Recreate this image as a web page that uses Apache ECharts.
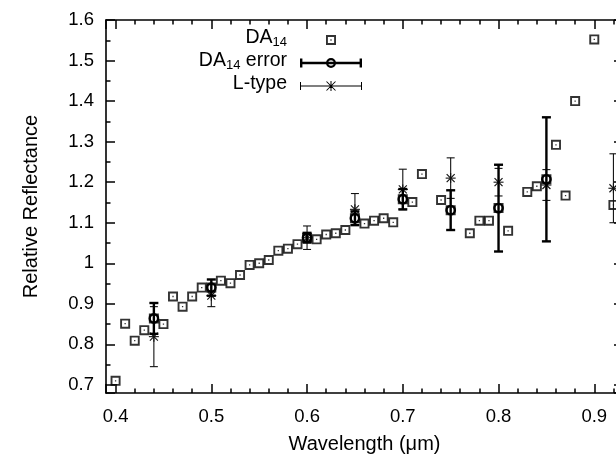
<!DOCTYPE html>
<html><head><meta charset="utf-8">
<script src="https://cdn.jsdelivr.net/npm/echarts@6/dist/echarts.min.js"></script>
<style>html,body{margin:0;padding:0;background:#fff}#c{width:616px;height:457px}</style>
</head><body><div id="c"></div>
<script>
// DA14 spectrum (squares)
const da14Wave = [0.40,0.41,0.42,0.43,0.44,0.45,0.46,0.47,0.48,0.49,0.50,0.51,0.52,0.53,0.54,0.55,0.56,0.57,0.58,0.59,0.60,0.61,0.62,0.63,0.64,0.65,0.66,0.67,0.68,0.69,0.70,0.71,0.72,0.74,0.75,0.77,0.78,0.79,0.80,0.81,0.83,0.84,0.85,0.86,0.87,0.88,0.90,0.92];
const da14Refl = [0.710,0.851,0.809,0.835,0.864,0.850,0.918,0.893,0.918,0.940,0.940,0.957,0.951,0.971,0.996,1.000,1.008,1.031,1.036,1.047,1.063,1.059,1.071,1.074,1.082,1.111,1.098,1.105,1.111,1.101,1.158,1.151,1.220,1.156,1.131,1.074,1.105,1.105,1.136,1.080,1.176,1.190,1.207,1.292,1.167,1.400,1.552,1.144];
// DA14 binned with error
const errWave = [0.44,0.50,0.60,0.65,0.70,0.75,0.80,0.85];
const errRefl = [0.864,0.940,1.063,1.111,1.158,1.131,1.136,1.207];
const errSize = [0.038,0.020,0.012,0.017,0.025,0.049,0.107,0.153];
// L-type reference
const lWave = [0.44,0.50,0.60,0.65,0.70,0.75,0.80,0.85,0.92];
const lRefl = [0.819,0.920,1.063,1.133,1.182,1.210,1.200,1.193,1.185];
const lErr  = [0.074,0.027,0.029,0.039,0.050,0.050,0.034,0.038,0.085];

const FONT = '"Liberation Sans", Arial, sans-serif';
const chart = echarts.init(document.getElementById('c'), null, {renderer: 'canvas'});

function ln(x1, y1, x2, y2, w, c) {
  return {type: 'line', shape: {x1, y1, x2, y2}, style: {stroke: c, lineWidth: w}};
}
function renderErr(params, api) {
  const x = api.value(0), y = api.value(1), e = api.value(2);
  const c = api.coord([x, y]), t = api.coord([x, y + e]), b = api.coord([x, y - e]);
  const hw = 4.5, w = 2.4, col = '#000';
  return {type: 'group', children: [
    ln(c[0], t[1], c[0], b[1], w, col),
    ln(c[0] - hw, t[1], c[0] + hw, t[1], w, col),
    ln(c[0] - hw, b[1], c[0] + hw, b[1], w, col),
    {type: 'circle', shape: {cx: c[0], cy: c[1], r: 4.2}, style: {fill: 'none', stroke: col, lineWidth: 2.4}}
  ]};
}
function renderL(params, api) {
  const x = api.value(0), y = api.value(1), e = api.value(2);
  const c = api.coord([x, y]), t = api.coord([x, y + e]), b = api.coord([x, y - e]);
  const hw = 4, r = 5, d = 4, w = 1.1, col = '#111';
  return {type: 'group', children: [
    ln(c[0], t[1], c[0], b[1], w, col),
    ln(c[0] - hw, t[1], c[0] + hw, t[1], w, col),
    ln(c[0] - hw, b[1], c[0] + hw, b[1], w, col),
    ln(c[0] - r, c[1], c[0] + r, c[1], w, col),
    ln(c[0], c[1] - r, c[0], c[1] + r, w, col),
    ln(c[0] - d, c[1] - d, c[0] + d, c[1] + d, w, col),
    ln(c[0] - d, c[1] + d, c[0] + d, c[1] - d, w, col)
  ]};
}

const squareSym = 'path://M0 0H10V10H0Z M1.9 1.9V8.1H8.1V1.9Z M4.35 4.35H5.65V5.65H4.35Z';
const iconSquare = 'path://M0 0 M26 0H36V10H26Z M27.9 1.9V8.1H34.1V1.9Z M30.35 4.35H31.65V5.65H30.35Z M62 10';
const iconErr = 'path://M0 0 M0 3.8H62V6.2H0Z M0 0.5H2.4V9.5H0Z M59.6 0.5H62V9.5H59.6Z M26 5A5 5 0 1 1 36 5A5 5 0 1 1 26 5Z M28.2 5A2.8 2.8 0 1 0 33.8 5A2.8 2.8 0 1 0 28.2 5Z M62 10';
const iconL = 'path://M0 0 M0 4.5H62V5.5H0Z M0 1H1V9H0Z M61 1H62V9H61Z M30.5 0H31.5V10H30.5Z M26.15 0.85L26.85 0.15L35.85 9.15L35.15 9.85Z M35.15 0.15L35.85 0.85L26.85 9.85L26.15 9.15Z M62 10';

function tickFmt(v) {
  const t = v * 10;
  if (Math.abs(t - Math.round(t)) > 1e-6) return '';
  return String(Number(v.toFixed(1)));
}
const axisLineStyle = {color: '#000', width: 1.6};
const baseX = {
  type: 'value', min: 0.39, max: 0.93, splitNumber: 5,
  axisLine: {show: true, onZero: false, lineStyle: axisLineStyle},
  axisTick: {show: true, inside: true, length: 9, lineStyle: {color: '#000', width: 1.5}},
  minorTick: {show: true, splitNumber: 5, length: 4.5, lineStyle: {color: '#000', width: 1.5}},
  splitLine: {show: false}
};
const baseY = {
  type: 'value', min: 0.68, max: 1.6, splitNumber: 9,
  axisLine: {show: true, onZero: false, lineStyle: axisLineStyle},
  axisTick: {show: true, inside: true, length: 9, lineStyle: {color: '#000', width: 1.5}},
  minorTick: {show: true, splitNumber: 2, length: 4.5, lineStyle: {color: '#000', width: 1.5}},
  splitLine: {show: false}
};

chart.setOption({
  animation: false,
  backgroundColor: '#fff',
  textStyle: {fontFamily: FONT},
  grid: {left: 106, right: -7, top: 20, bottom: 64, containLabel: false, outerBoundsMode: 'none'},
  xAxis: [
    Object.assign({}, baseX, {
      position: 'bottom',
      name: 'Wavelength (μm)', nameLocation: 'middle', nameGap: 41,
      nameTextStyle: {fontSize: 20, color: '#000', fontFamily: FONT},
      axisLabel: {show: true, margin: 14, fontSize: 18.5, color: '#000', fontFamily: FONT, formatter: tickFmt, showMinLabel: true, showMaxLabel: true}
    }),
    Object.assign({}, baseX, {position: 'top', axisLabel: {show: false}})
  ],
  yAxis: [
    Object.assign({}, baseY, {
      position: 'left',
      name: 'Relative Reflectance', nameLocation: 'middle', nameGap: 65, nameRotate: 90,
      nameTextStyle: {fontSize: 20, color: '#000', fontFamily: FONT},
      axisLabel: {show: true, margin: 12, fontSize: 18.5, color: '#000', fontFamily: FONT, formatter: tickFmt, showMinLabel: true, showMaxLabel: true}
    }),
    Object.assign({}, baseY, {position: 'right', axisLabel: {show: false}})
  ],
  legend: {
    orient: 'vertical', right: 254, top: 28, align: 'right', padding: 0,
    itemWidth: 62, itemHeight: 10, itemGap: -1, selectedMode: false,
    itemStyle: {color: '#000', borderWidth: 0},
    textStyle: {
      color: '#000', fontFamily: FONT, padding: [0, 8, 0, 0],
      rich: {
        m: {fontSize: 19.5, lineHeight: 18, padding: [0, 0, 4, 0], color: '#000', fontFamily: FONT},
        s: {fontSize: 13, lineHeight: 13, verticalAlign: 'bottom', color: '#000', fontFamily: FONT}
      }
    },
    formatter: function (name) {
      if (name === 'DA14') return '{m|DA}{s|14}';
      if (name === 'DA14 error') return '{m|DA}{s|14}{m| error}';
      return '{m|' + name + '}';
    },
    data: [
      {name: 'DA14', icon: iconSquare, itemStyle: {color: '#000', borderWidth: 0}},
      {name: 'DA14 error', icon: iconErr, itemStyle: {color: '#000', borderWidth: 0}},
      {name: 'L-type', icon: iconL, itemStyle: {color: '#000', borderWidth: 0}}
    ]
  },
  series: [
    {
      name: 'DA14', type: 'scatter', xAxisIndex: 0, yAxisIndex: 0,
      symbol: squareSym, symbolSize: 10, itemStyle: {color: '#000'}, silent: true, z: 2,
      data: da14Wave.map((w, i) => [w, da14Refl[i]])
    },
    {
      name: 'L-type', type: 'custom', xAxisIndex: 0, yAxisIndex: 0, silent: true, z: 3,
      itemStyle: {color: '#000'}, renderItem: renderL, encode: {x: 0, y: 1},
      data: lWave.map((w, i) => [w, lRefl[i], lErr[i]])
    },
    {
      name: 'DA14 error', type: 'custom', xAxisIndex: 0, yAxisIndex: 0, silent: true, z: 4,
      itemStyle: {color: '#000'}, renderItem: renderErr, encode: {x: 0, y: 1},
      data: errWave.map((w, i) => [w, errRefl[i], errSize[i]])
    }
  ]
});
</script>
</body></html>
